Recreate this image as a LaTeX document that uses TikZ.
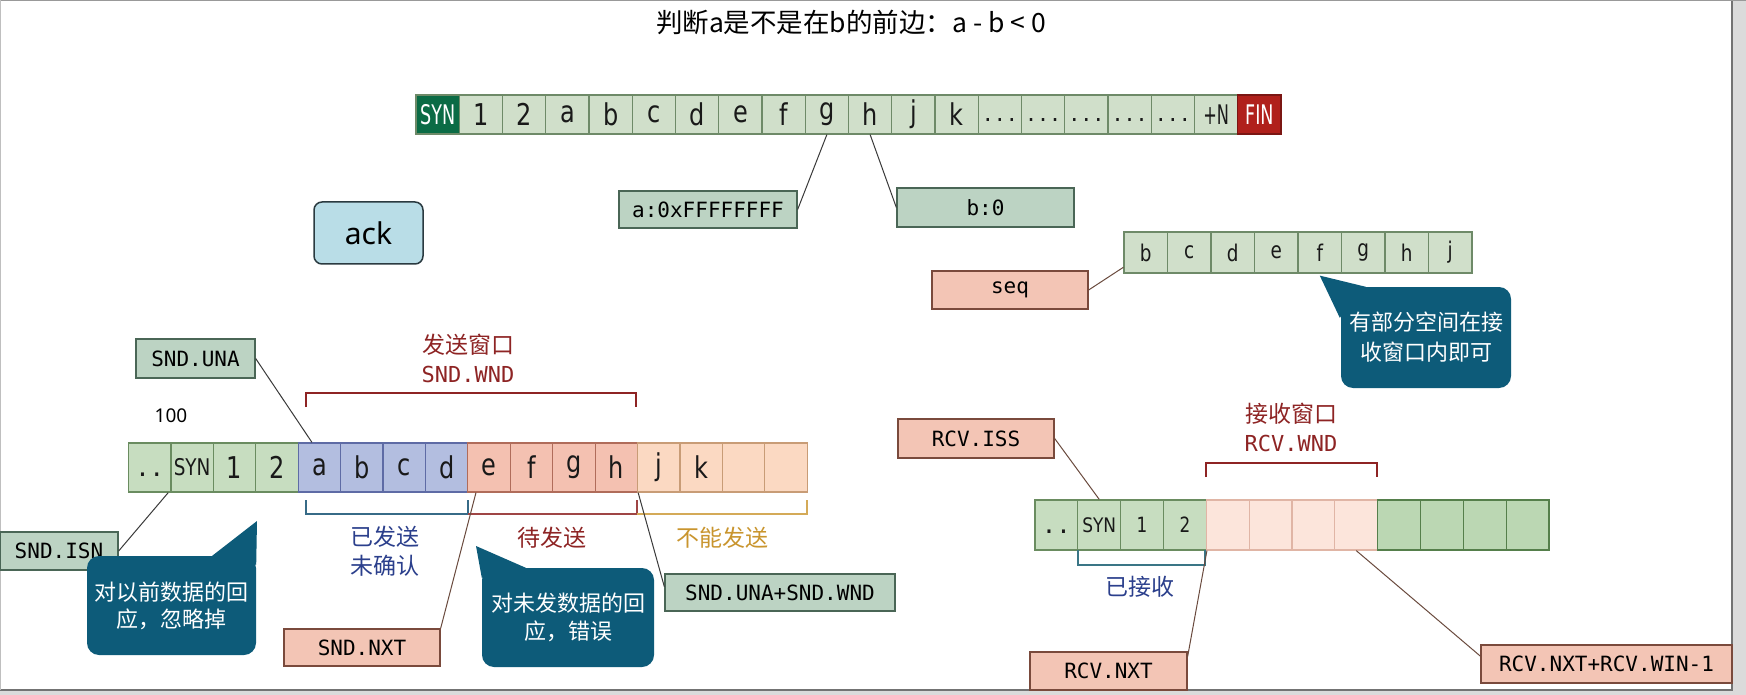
\documentclass[tikz,border=0pt]{standalone}
\usepackage{fontspec}
\usepackage{graphicx}
\usetikzlibrary{calc}
\setmainfont{Noto Sans}
\newfontfamily\cjk{Noto Sans CJK SC}
\newfontfamily\mono{DejaVu Sans Mono}
\newfontfamily\cellf{DejaVu Sans}
\newcommand\ct[2][30]{{\cellf\fontsize{#1}{#1}\selectfont\scalebox{0.8}[1]{#2}}}
\newcommand\cs[3]{{\cellf\fontsize{#1}{#1}\selectfont\scalebox{#2}[1]{#3}}}
\newcommand\dd[2][20]{{\mono\fontsize{#1}{#1}\selectfont\vphantom{bd}#2}}
\definecolor{tcell}{HTML}{D0DFCA}
\definecolor{tcellb}{HTML}{6E8A68}
\definecolor{syn}{HTML}{0B6B45}
\definecolor{fin}{HTML}{B0201B}
\definecolor{lblg}{HTML}{BCD3C3}
\definecolor{lblgb}{HTML}{4A6656}
\definecolor{lblp}{HTML}{F3C5B5}
\definecolor{lblpb}{HTML}{7A4A3C}
\definecolor{gcell}{HTML}{C7DDC0}
\definecolor{gcellb}{HTML}{6A8C60}
\definecolor{bcell}{HTML}{B3BEE0}
\definecolor{bcellb}{HTML}{5E6BA5}
\definecolor{rcell}{HTML}{F4C1B1}
\definecolor{rcellb}{HTML}{B06C5A}
\definecolor{ocell}{HTML}{FBD9C2}
\definecolor{ocellb}{HTML}{C89C76}
\definecolor{lpcell}{HTML}{FCE5DB}
\definecolor{lpcellb}{HTML}{E0B5A5}
\definecolor{dgcell}{HTML}{BBD7B3}
\definecolor{dgcellb}{HTML}{557F4B}
\definecolor{callc}{HTML}{0D5B79}
\definecolor{ackc}{HTML}{B9DDE7}
\definecolor{ackb}{HTML}{2A3A40}
\definecolor{dred}{HTML}{8E2424}
\definecolor{dblue}{HTML}{2B3F8C}
\definecolor{gold}{HTML}{C9952E}
\definecolor{bteal}{HTML}{3A7686}
\definecolor{linkc}{HTML}{3A3A3A}
\definecolor{linkpc}{HTML}{6A4A3E}
\begin{document}
\begin{tikzpicture}[x=1pt,y=-1pt,
  cellbase/.style={draw, minimum width=#1, inner sep=0, line width=1.2, text=black!90},
  tc/.style={cellbase=43.25, minimum height=39, fill=tcell, draw=tcellb},
  sc/.style={cellbase=43.5, minimum height=41, fill=tcell, draw=tcellb},
  wc/.style={cellbase=42.42, minimum height=49},
  rc/.style={cellbase=42.83, minimum height=50},
  lblbase/.style={draw, line width=1.3, inner sep=0, text=black, font=\mono\fontsize{21}{21}\selectfont},
  lblG/.style={lblbase, fill=lblg, draw=lblgb},
  lblP/.style={lblbase, fill=lblp, draw=lblpb},
  callout/.style={fill=callc, rounded corners=12, inner sep=0, text=white, align=center},
  link/.style={draw=linkc, line width=1},
  linkp/.style={draw=linkpc, line width=1},
  lab/.style={font=\cjk\fontsize{23}{29}\selectfont, inner sep=0, align=center}
]
\useasboundingbox (0,0) rectangle (1746,695);
% slide frame
\fill[black!14] (0,0) rectangle (1746,695);
\fill[white] (0,0) rectangle (1732,690);
\draw[black!55, line width=2] (1732,0) -- (1732,690) -- (0,690);
\draw[black!40, line width=1.5] (0,0.75) -- (1746,0.75);
\draw[black!25, line width=1] (0.5,0) -- (0.5,690);

% title
\node[font=\cjk\fontsize{26.5}{26.5}\selectfont, inner sep=0] (title) at (851,22) {判断a是不是在b的前边：a - b < 0};

% top sequence row
\node[tc, fill=syn, draw=tcellb, text=white] (t0) at ({416+43.25*0.5},114.5) {\cs{27}{0.65}{SYN}};
\foreach \lab [count=\i] in {1,2,a,b,c,d,e,f,g,h,j,k}
  \node[tc] (t\i) at ({416+43.25*(\i+0.5)},114.5) {\ct{\lab}};
\foreach \i in {13,...,17}
  \node[tc] (t\i) at ({416+43.25*(\i+0.5)},114.5) {\dd{...}};
\node[tc] (t18) at ({416+43.25*18.5},114.5) {\cs{27}{0.6}{+N}};
\node[tc, fill=fin, draw=fin!70!black, text=white] (t19) at ({416+43.25*19.5},114.5) {\cs{27}{0.65}{FIN}};

% a / b value boxes
\node[lblG, minimum width=178, minimum height=37] (aval) at (708,209.5) {a:0xFFFFFFFF};
\node[lblG, minimum width=177, minimum height=39] (bval) at (985.5,207.5) {b:0};
\draw[link] (t9.south) -- (aval.east);
\draw[link] (t10.south) -- (bval.west);

% ack
\node[draw=ackb, fill=ackc, rounded corners=8, line width=1.5, minimum width=109, minimum height=62, inner sep=0, font=\fontsize{30}{30}\selectfont] (ack) at (368.5,233) {ack};

% seq row
\foreach \lab [count=\i from 0] in {b,c,d,e,f,g,h,j}
  \node[sc] (s\i) at ({1124+43.5*(\i+0.5)},252.5) {\ct[23]{\lab}};
\node[lblP, minimum width=156, minimum height=38] (seq) at (1010,290) {seq};
\draw[linkp] (seq.east) -- ($(s0.south west)!0.15!(s0.north west)$);

% callout A
\node[callout, minimum width=170, minimum height=101, font=\cjk\fontsize{22}{30}\selectfont] (cA) at (1426,337.5) {有部分空间在接\\收窗口内即可};
\fill[callc] ([yshift=-2pt]s4.south) -- ($(cA.north west)+(-1,31)$) -- ($(cA.north west)+(25,0)$) -- cycle;

% ---------------- send window ----------------
\node[lblG, minimum width=119, minimum height=39] (sndUNA) at (195.5,358.5) {SND.UNA};
\node[font=\fontsize{19}{19}\selectfont, inner sep=0] (n100) at (171,416) {100};
\node[lab, text=dred] (sndwin) at (468,358.5) {发送窗口\\{\mono\fontsize{22}{22}\selectfont SND.WND}};
\draw[dred, line width=1.5] (306,407) -- (306,393) -- (636,393) -- (636,407);

\foreach \lab [count=\i from 0] in {\dd[24]{..},\cs{23}{0.8}{SYN},\ct{1},\ct{2}}
  \node[wc, fill=gcell, draw=gcellb] (w\i) at ({128.5+42.42*(\i+0.5)},467.5) {\lab};
\foreach \lab [count=\i from 4] in {a,b,c,d}
  \node[wc, fill=bcell, draw=bcellb] (w\i) at ({128.5+42.42*(\i+0.5)},467.5) {\ct{\lab}};
\foreach \lab [count=\i from 8] in {e,f,g,h}
  \node[wc, fill=rcell, draw=rcellb] (w\i) at ({128.5+42.42*(\i+0.5)},467.5) {\ct{\lab}};
\foreach \lab [count=\i from 12] in {j,k,{},{}}
  \node[wc, fill=ocell, draw=ocellb] (w\i) at ({128.5+42.42*(\i+0.5)},467.5) {\ct{\lab}};

\draw[bteal!80!dblue, line width=1.5] (306,500) -- (306,514) -- (468,514) -- (468,500);
\draw[dred!85, line width=1.5] (468,514) -- (637,514) -- (637,500);
\draw[gold!80, line width=1.5] (637,514) -- (807,514) -- (807,500);
\node[lab, text=dblue] (sent) at (385,551.5) {已发送\\未确认};
\node[lab, text=dred] (tosend) at (552,538) {待发送};
\node[lab, text=gold] (cannot) at (722,538) {不能发送};

\node[lblG, minimum width=118, minimum height=38] (sndISN) at (59,551) {SND.ISN};
\node[lblP, minimum width=156, minimum height=37] (sndNXT) at (362,647.5) {SND.NXT};
\node[lblG, minimum width=230, minimum height=37] (sndUW) at (780,592.5) {SND.UNA+SND.WND};

\draw[link] (sndUNA.east) -- ($(w4.north west)!0.33!(w4.north east)$);
\draw[link] (sndISN.east) -- ($(w0.south)!0.85!(w0.south east)$);
\draw[linkp] (sndNXT.north east) -- ($(w8.south west)!0.2!(w8.south east)$);
\draw[link] ($(sndUW.north west)!0.35!(sndUW.south west)$) -- (w11.south east);

% callouts B and C
\coordinate (tipB) at (257,521);
\coordinate (tipC) at (476,546);
\node[callout, minimum width=169, minimum height=99, font=\cjk\fontsize{22}{27}\selectfont] (cB) at (171.5,605.5) {对以前数据的回\\应，忽略掉};
\fill[callc] (tipB) -- ($(cB.north east)+(-44,0)$) -- ($(cB.north east)+(0,9)$) -- cycle;
\node[callout, minimum width=172, minimum height=99, font=\cjk\fontsize{22}{28}\selectfont] (cC) at (568,617.5) {对未发数据的回\\应，错误};
\fill[callc] (tipC) -- ($(cC.north west)+(0,10)$) -- ($(cC.north west)+(44,0)$) -- cycle;

% ---------------- receive window ----------------
\node[lblP, minimum width=156, minimum height=39] (rcvISS) at (976,438.5) {RCV.ISS};
\node[lab, text=dred] (rcvwin) at (1291,427.5) {接收窗口\\{\mono\fontsize{22}{22}\selectfont RCV.WND}};
\draw[dred, line width=1.5] (1206,477) -- (1206,463) -- (1377,463) -- (1377,477);

\foreach \lab [count=\i from 0] in {\dd[24]{..},\cs{20}{0.85}{SYN},\ct[21]{1},\ct[21]{2}}
  \node[rc, fill=gcell, draw=gcellb] (r\i) at ({1035+42.83*(\i+0.5)},525) {\lab};
\foreach \i in {4,...,7}
  \node[rc, fill=lpcell, draw=lpcellb] (r\i) at ({1035+42.83*(\i+0.5)},525) {};
\foreach \i in {8,...,11}
  \node[rc, fill=dgcell, draw=dgcellb] (r\i) at ({1035+42.83*(\i+0.5)},525) {};

\draw[bteal, line width=1.5] (1078,550) -- (1078,565) -- (1205,565) -- (1205,550);
\node[lab, text=dblue] (rcvd) at (1140,587) {已接收};

\node[lblP, minimum width=157, minimum height=38] (rcvNXT) at (1108.5,671) {RCV.NXT};
\node[lblP, minimum width=251, minimum height=38] (rcvWIN) at (1606.5,664) {RCV.NXT+RCV.WIN-1};

\draw[linkp] (rcvISS.east) -- (r1.north);
\draw[linkp] ($(rcvNXT.north east)!0.13!(rcvNXT.south east)$) -- (r3.south east);
\draw[linkp] ($(rcvWIN.north west)!0.3!(rcvWIN.south west)$) -- (r7.south);
\end{tikzpicture}
\end{document}
